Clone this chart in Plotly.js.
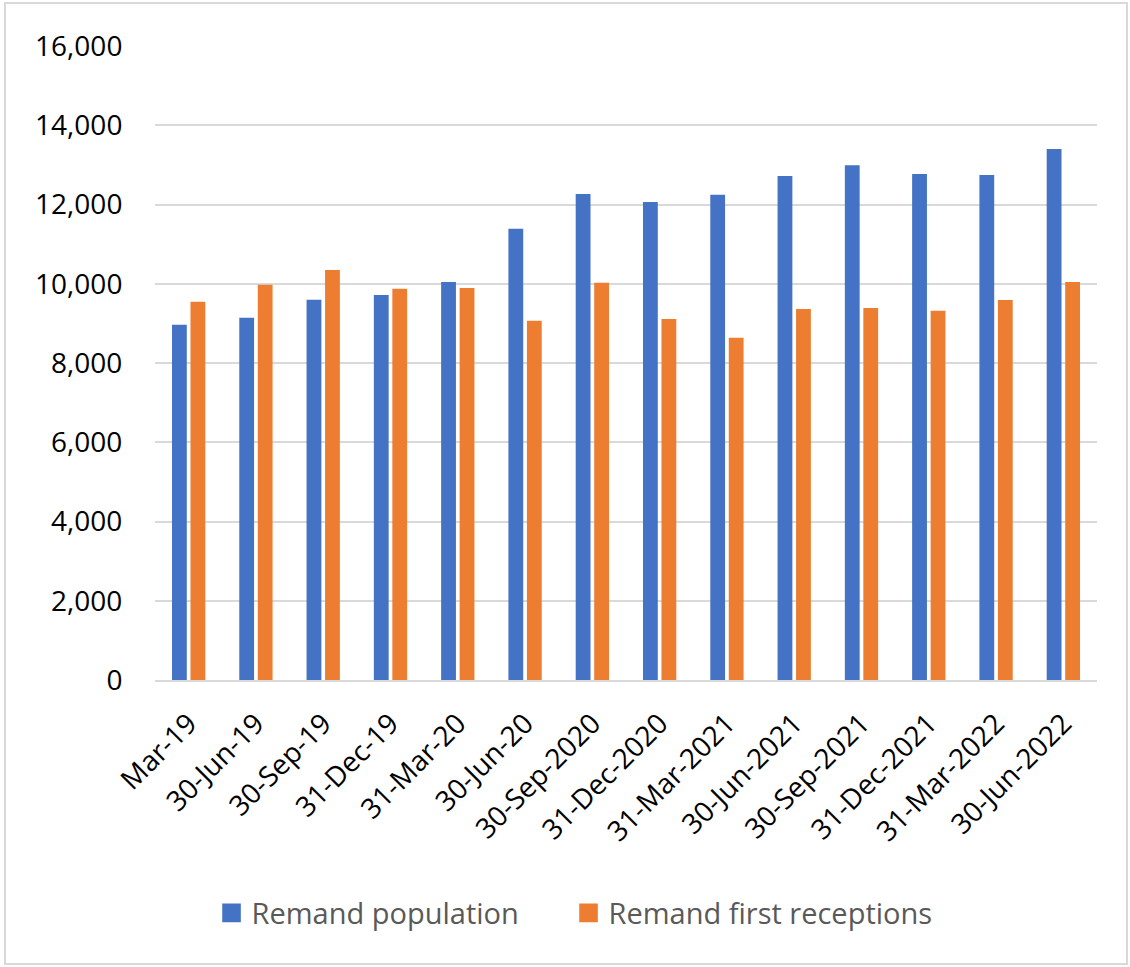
<!DOCTYPE html>
<html>
<head>
<meta charset="utf-8">
<script src="https://cdn.plot.ly/plotly-3.0.1.min.js"></script>
<style>
  html, body { margin: 0; padding: 0; background: #ffffff; }
  #wrap { position: relative; width: 1130px; height: 967px; }
  #chart { position: absolute; left: 0; top: 0; width: 1130px; height: 967px; }
  #frame { position: absolute; left: 4px; top: 2px; width: 1120px; height: 959px; border: 2px solid #d9d9d9; pointer-events: none; }
</style>
</head>
<body>
<div id="wrap">
  <div id="chart"></div>
  <div id="frame"></div>
</div>
<script>
const categories = ["Mar-19", "30-Jun-19", "30-Sep-19", "31-Dec-19", "31-Mar-20", "30-Jun-20",
  "30-Sep-2020", "31-Dec-2020", "31-Mar-2021", "30-Jun-2021", "30-Sep-2021", "31-Dec-2021",
  "31-Mar-2022", "30-Jun-2022"];
const remandPopulation = [8965, 9141, 9596, 9714, 10043, 11389, 12264, 12063, 12247, 12719, 12988, 12770, 12744, 13401];
const remandFirstReceptions = [9545, 9975, 10346, 9874, 9891, 9066, 10025, 9108, 8636, 9360, 9386, 9318, 9588, 10043];
const yTickValues = [0, 2000, 4000, 6000, 8000, 10000, 12000, 14000, 16000];

const FONT = "Open Sans, sans-serif";

const traces = [
  { type: "bar", name: "Remand population", x: categories, y: remandPopulation,
    marker: { color: "#4472C4" }, hoverinfo: "x+y+name" },
  { type: "bar", name: "Remand first receptions", x: categories, y: remandFirstReceptions,
    marker: { color: "#ED7D31" }, hoverinfo: "x+y+name" }
];

const layout = {
  width: 1130, height: 967,
  paper_bgcolor: "rgba(0,0,0,0)", plot_bgcolor: "#ffffff",
  margin: { l: 155, r: 33, t: 46, b: 287 },
  barmode: "group", bargap: 0.45, bargroupgap: 0.2,
  showlegend: true,
  legend: {
    orientation: "h", x: 0.06, xanchor: "left", y: -0.3675, yanchor: "middle",
    font: { family: FONT, size: 29, color: "#595959" }, entrywidth: 312, entrywidthmode: "pixels",
    traceorder: "normal"
  },
  xaxis: {
    type: "category", tickangle: -45, ticks: "outside", ticklen: 14, tickcolor: "rgba(0,0,0,0)",
    tickfont: { family: FONT, size: 28, color: "#000000" },
    showgrid: false, showline: true, linecolor: "#d9d9d9", linewidth: 2, zeroline: false, fixedrange: true
  },
  yaxis: {
    range: [0, 16000], tickvals: yTickValues, tickformat: ",d",
    ticks: "outside", ticklen: 26, tickcolor: "rgba(0,0,0,0)",
    tickfont: { family: FONT, size: 28, color: "#000000" },
    showgrid: true, gridcolor: "#d9d9d9", gridwidth: 2, zeroline: false, showline: false, fixedrange: true
  }
};

Plotly.newPlot("chart", traces, layout, { displayModeBar: false, staticPlot: true }).then(function (gd) {
  // enlarge the legend swatches to match the reference's larger squares
  gd.querySelectorAll(".legendpoints path").forEach(function (p) {
    const t = p.getAttribute("transform") || "";
    p.setAttribute("transform", t + " scale(1.55)");
  });
  // let the last legend label run past its fixed entry width without clipping
  gd.querySelectorAll("clipPath").forEach(function (cp) {
    if (cp.id && cp.id.indexOf("legend") !== -1) {
      cp.querySelectorAll("rect").forEach(function (r) { r.setAttribute("width", "900"); });
    }
  });
  gd.querySelectorAll(".legend .bg").forEach(function (r) { r.setAttribute("width", "900"); });
});
</script>
</body>
</html>
